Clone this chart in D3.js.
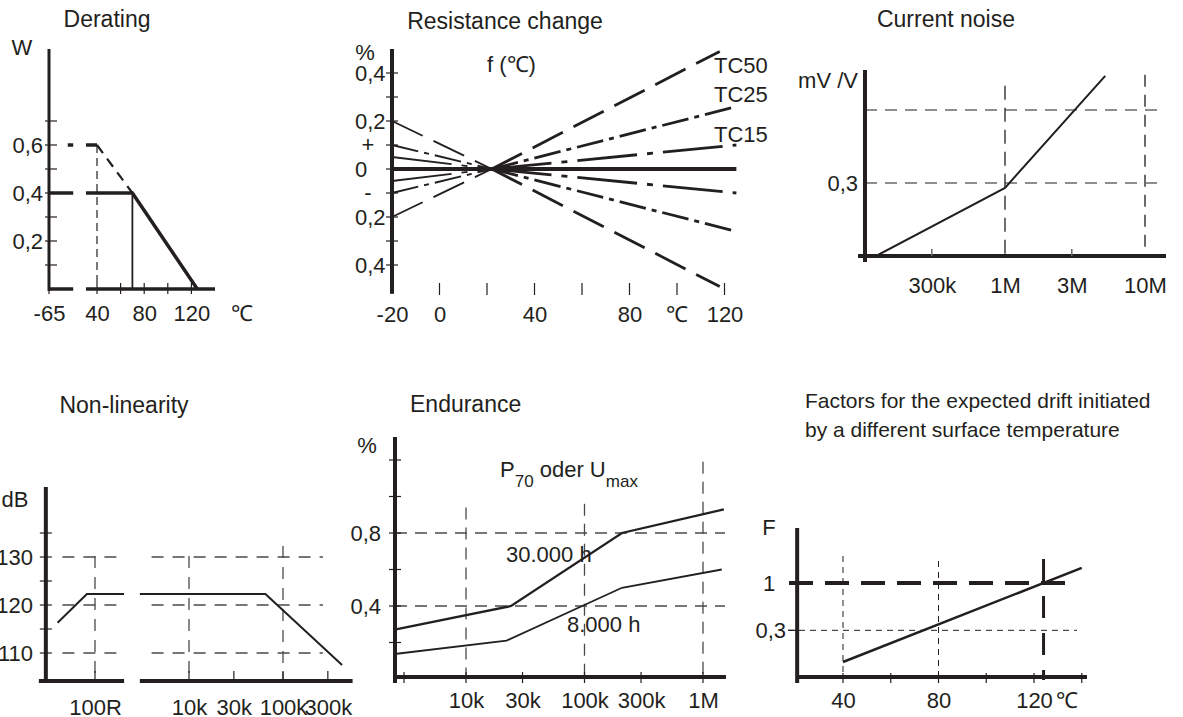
<!DOCTYPE html>
<html>
<head>
<meta charset="utf-8">
<script src="https://cdn.jsdelivr.net/npm/d3@7"></script>
<style>
  body { margin: 0; background: #fff; }
  svg { display: block; font-family: "Liberation Sans", Arial, sans-serif; font-size: 22px; }
  text { fill: #231f20; }
</style>
</head>
<body>
<svg id="chart" width="1183" height="717"></svg>
<script>
const ink = '#231f20';
const grid = '#4a4a4a';
// datasheet style: decimal comma, no minus sign on the lower half
const comma = d => String(Math.abs(d)).replace('.', ',');

// Derating
const deratingTempTicks = [40, 60, 80, 100, 120];
const deratingTempLabels = [-65, 40, 80, 120];
const deratingPowerTicks = [0.1, 0.2, 0.3, 0.4, 0.5, 0.6, 0.7];
const deratingPowerLabels = [0.2, 0.4, 0.6];
const deratingCurve = [[-65, 0.4], [70, 0.4], [125, 0]];
const deratingPeak = [[-24, 0.6], [40, 0.6]];
const deratingExtension = [[40, 0.6], [70, 0.4]];
const deratingBreak = [-12, 16];

// Resistance change
const rcTempTicks = [0, 20, 40, 60, 80, 100, 120];
const rcTempLabels = [-20, 0, 40, 80, 120];
const rcPctTicks = [-0.4, -0.3, -0.2, -0.1, 0, 0.1, 0.2, 0.3, 0.4];
const rcPctLabels = [0.4, 0.2, 0, -0.2, -0.4];
const tcNames = ['TC50', 'TC25', 'TC15'];
const tcAtMinus20 = [0.2, 0.1, 0.05];
const tcEndTemp = [118, 125, 125];
const tcAtEnd = [0.49, 0.26, 0.1];
const tcRefTemp = 22;

// Current noise
const noiseFreqTicks = [3e5, 1e6, 3e6, 1e7];
const noiseFreqLabels = ['300k', '1M', '3M', '10M'];
const noiseGridLevels = [0.3, 0.6];
const noiseCurve = [[1.2e5, 0], [1e6, 0.28], [5.2e6, 0.74]];

// Non-linearity
const nlLowTicks = [100];
const nlLowLabels = ['100R'];
const nlHighTicks = [1e4, 3e4, 1e5, 3e5];
const nlHighLabels = ['10k', '30k', '100k', '300k'];
const nlDbTicks = [110, 115, 120, 125, 130, 135];
const nlDbLabels = [110, 120, 130];
const nlLowCurve = [[40, 116.3], [82, 122.3], [204, 122.3]];
const nlHighCurve = [[3000, 122.3], [65000, 122.3], [425000, 107.5]];

// Endurance
const endFreqTicks = [3e3, 1e4, 3e4, 1e5, 3e5, 1e6];
const endFreqLabels = ['10k', '30k', '100k', '300k', '1M'];
const endPctTicks = [0.2, 0.4, 0.6, 0.8, 1.0, 1.2];
const endPctLabels = [0.4, 0.8];
const end30000h = [[2.5e3, 0.27], [24e3, 0.4], [207e3, 0.8], [1.5e6, 0.93]];
const end8000h = [[2.5e3, 0.137], [22e3, 0.21], [207e3, 0.5], [1.44e6, 0.6]];

// Drift factors
const facTempTicks = [40, 60, 80, 100, 120, 140];
const facTempLabels = [40, 80, 120];
const facCurve = [[40, 0.134], [140, 1.47]];
const facRefTemp = 124;

const svg = d3.select('#chart');

function seg(g, x1, y1, x2, y2, w, dash, color) {
  return g.append('line')
    .attr('x1', x1).attr('y1', y1).attr('x2', x2).attr('y2', y2)
    .attr('stroke', color || ink).attr('stroke-width', w)
    .attr('stroke-dasharray', dash || null);
}
function curve(g, pts, x, y, w, dash) {
  return g.append('path').datum(pts)
    .attr('fill', 'none').attr('stroke', ink).attr('stroke-width', w)
    .attr('stroke-dasharray', dash || null)
    .attr('d', d3.line().x(d => x(d[0])).y(d => y(d[1])));
}
function clean(a) {
  a.select('.domain').remove();
  a.selectAll('.tick line').remove();
  a.attr('font-size', 22).attr('font-family', null).attr('color', ink);
}
function bottomLabels(g, scale, values, fmt, baseline) {
  g.append('g').attr('transform', `translate(0,${baseline - 15.6})`)
    .call(d3.axisBottom(scale).tickValues(values).tickFormat(fmt).tickSize(0).tickPadding(0))
    .call(clean);
}
function leftLabels(g, scale, values, fmt, xEnd) {
  g.append('g').attr('transform', `translate(${xEnd},0)`)
    .call(d3.axisLeft(scale).tickValues(values).tickFormat(fmt).tickSize(0).tickPadding(0))
    .call(clean);
}
function label(g, x, y, txt, anchor, size) {
  return g.append('text').attr('x', x).attr('y', y)
    .attr('text-anchor', anchor || 'start')
    .attr('font-size', size || 22).text(txt);
}

// ---------- Derating ----------
{
  const g = svg.append('g');
  const x = d3.scaleLinear().domain([-65, 40, 140]).range([49, 97, 215]);
  const y = d3.scaleLinear().domain([0, 1]).range([289, 49]);
  const x0 = x(-65), y0 = y(0);

  seg(g, x(40), y(0.6), x(40), y0, 1.2, '8,5');
  curve(g, deratingPeak, x, y, 3.5);
  curve(g, deratingExtension, x, y, 2.2, '10,7');
  curve(g, deratingCurve, x, y, 3.5);
  seg(g, x(70), y(0.4), x(70), y0, 1.8);
  seg(g, x0, y0, x(140), y0, 3.5);
  g.append('rect')
    .attr('x', x(deratingBreak[0])).attr('y', y(0.7))
    .attr('width', x(deratingBreak[1]) - x(deratingBreak[0]))
    .attr('height', y0 - y(0.7) + 5).attr('fill', '#fff');
  seg(g, x0, y(1), x0, y0 + 2, 3);
  deratingPowerTicks.forEach(v => seg(g, x0 - 4, y(v), x0 + 8, y(v), 1.2));
  deratingTempTicks.forEach(t => seg(g, x(t), y0 - 6, x(t), y0 + 5, 1.2));
  seg(g, x0, y0, x0, y0 + 5, 1.2);

  leftLabels(g, y, deratingPowerLabels, comma, 43);
  bottomLabels(g, x, deratingTempLabels, d => d, 321);
  label(g, 242, 321, '℃', 'middle');
  label(g, 22, 55, 'W', 'middle');
  label(g, 107, 27, 'Derating', 'middle', 23);
}

// ---------- Resistance change ----------
{
  const g = svg.append('g');
  const x = d3.scaleLinear().domain([-20, 120]).range([392, 724.5]);
  const y = d3.scaleLinear().domain([-0.5, 0.5]).range([289, 49]);
  const x0 = x(-20);
  const dashes = ['34,12', '27,6,5,6', '60,10,6,10'];

  tcNames.forEach((name, i) => {
    [1, -1].forEach(s => {
      // left half is drawn lighter than the right half, as in the sheet
      curve(g, [[-20, -s * tcAtMinus20[i]], [tcRefTemp, 0]], x, y, 1.9, dashes[i]);
      curve(g, [[tcRefTemp, 0], [tcEndTemp[i], s * tcAtEnd[i]]], x, y, 2.8, dashes[i]);
    });
  });
  seg(g, x0, y(0), x(125), y(0), 4);
  seg(g, x0, y(0.5), x0, y(-0.52), 4);
  rcPctTicks.forEach(v => seg(g, x0 - 6, y(v), x0 + 6, y(v), 1.2));
  rcTempTicks.forEach(t => seg(g, x(t), 283, x(t), 295, 1.2));

  g.selectAll('.pct').data(rcPctLabels).join('text')
    .attr('x', 355).attr('y', d => y(d)).attr('dy', '0.35em')
    .text(comma);
  bottomLabels(g, x, rcTempLabels, d => d, 322);
  label(g, x(100), 322, '℃', 'middle');
  label(g, 368, y(0.1) + 7, '+', 'middle');
  label(g, 368, y(-0.1) + 7, '-', 'middle');
  label(g, 365, 60, '%', 'middle');
  label(g, 487, 72, 'f (℃)');
  [73, 102, 142].forEach((b, i) => label(g, 714, b, tcNames[i]));
  label(g, 505, 29, 'Resistance change', 'middle', 23);
}

// ---------- Current noise ----------
{
  const g = svg.append('g');
  const x = d3.scaleLog().domain([1e5, 1e7]).range([865, 1145]);
  const y = d3.scaleLinear().domain([0, 0.6]).range([256, 110]);
  const x0 = x(1e5), y0 = y(0);

  noiseGridLevels.forEach(v => seg(g, x0, y(v), 1160, y(v), 1.5, '12,8', '#6a6a6a'));
  seg(g, x(1e6), y(0.7), x(1e6), y0, 1.3, '14,8');
  seg(g, x(1e7), y(0.745), x(1e7), y0, 2, '12,8', '#6a6a6a');
  curve(g, noiseCurve, x, y, 2);
  seg(g, x0 - 7, y0, 1166, y0, 4);
  seg(g, x0, 70, x0, y0 + 6, 4);
  [3e5, 3e6].forEach(f => seg(g, x(f), y0 - 7, x(f), y0, 1.5, null, '#6a6a6a'));

  bottomLabels(g, x, noiseFreqTicks, (d, i) => noiseFreqLabels[i], 293);
  leftLabels(g, y, [0.3], comma, 858);
  label(g, 858, 88, 'mV /V', 'end');
  label(g, 946, 27, 'Current noise', 'middle', 23);
}

// ---------- Non-linearity ----------
{
  const g = svg.append('g');
  const xL = d3.scaleLog().domain([100, 1000]).range([95, 189]);
  const xR = d3.scaleLog().domain([1e4, 1e5]).range([189, 283]);
  const y = d3.scaleLinear().domain([110, 130]).range([653, 557]);
  const x0 = xL(30), y0 = 681;

  [110, 120, 130].forEach(v => {
    seg(g, xL(45), y(v), xL(185), y(v), 1.3, '12,9', grid);
    seg(g, xR(4000), y(v), xR(2.66e5), y(v), 1.3, '12,9', grid);
  });
  seg(g, xL(100), y(130.2), xL(100), y0, 1.3, '12,9', grid);
  seg(g, xR(1e4), y(130.2), xR(1e4), y0, 1.3, '12,9', grid);
  seg(g, xR(1e5), y(132.3), xR(1e5), y0, 1.3, '12,9', grid);
  curve(g, nlLowCurve, xL, y, 2);
  curve(g, nlHighCurve, xR, y, 2);

  seg(g, x0 - 7, y0, xL(204), y0, 4);
  seg(g, xR(3000), y0, xR(5.5e5), y0, 4);
  seg(g, x0, 487, x0, y0 + 2, 4);
  nlDbTicks.forEach(v => seg(g, x0 - 6, y(v), x0 + 6, y(v), 1.2));
  nlLowTicks.forEach(f => seg(g, xL(f), y0 - 10, xL(f), y0, 1.2));
  nlHighTicks.forEach(f => seg(g, xR(f), y0 - 10, xR(f), y0, 1.2));

  leftLabels(g, y, nlDbLabels, d => d, 33);
  bottomLabels(g, xL, nlLowTicks, (d, i) => nlLowLabels[i], 715);
  bottomLabels(g, xR, nlHighTicks, (d, i) => nlHighLabels[i], 715);
  label(g, 15, 507, 'dB', 'middle');
  label(g, 124, 413, 'Non-linearity', 'middle', 23);
}

// ---------- Endurance ----------
{
  const g = svg.append('g');
  const x = d3.scaleLog().domain([1e4, 1e6]).range([466, 703]);
  const y = d3.scaleLinear().domain([0, 0.8]).range([679, 533]);
  const x0 = 395, y0 = 677;

  endPctLabels.forEach(v => seg(g, x0, y(v), 725, y(v), 1.3, '12,8', grid));
  seg(g, x(1e4), y(0.94), x(1e4), y0, 1.3, '12,8', grid);
  seg(g, x(1e5), y(0.96), x(1e5), y0, 1.3, '12,8', grid);
  seg(g, x(1e6), y(1.19), x(1e6), y0, 1.3, '12,8', grid);
  curve(g, end30000h, x, y, 2.3);
  curve(g, end8000h, x, y, 1.8);

  seg(g, x0, y0, 726, y0, 4);
  seg(g, x0, 437, x0, y0 + 6, 4);
  endPctTicks.forEach(v => seg(g, x0 - 6, y(v), x0 + 6, y(v), 1.2));
  endFreqTicks.forEach(f => seg(g, x(f), y0 - 5, x(f), y0 + 6, 1.2));

  leftLabels(g, y, endPctLabels, comma, 381);
  bottomLabels(g, x, endFreqTicks.slice(1), (d, i) => endFreqLabels[i], 708);
  label(g, 367, 453, '%', 'middle');

  const t = g.append('text').attr('x', 500).attr('y', 477);
  t.append('tspan').text('P');
  t.append('tspan').attr('dy', 10).attr('font-size', 17).text('70');
  t.append('tspan').attr('dy', -10).text(' oder U');
  t.append('tspan').attr('dy', 10).attr('font-size', 17).text('max');
  label(g, 506, 562, '30.000 h');
  label(g, 567, 632, '8.000 h');
  label(g, 410, 412, 'Endurance', 'start', 23);
}

// ---------- Drift factors ----------
{
  const g = svg.append('g');
  const x = d3.scaleLinear().domain([40, 120]).range([843, 1034]);
  const y = d3.scaleLog().domain([0.1, 1]).range([673.5, 583]);
  const x0 = x(20.8), y0 = 677;

  seg(g, 788, y(0.3), x(138), y(0.3), 1, '6,5');
  seg(g, x(40), 556, x(40), y0, 1, '6,5');
  seg(g, x(80), 561, x(80), y0, 1, '6,5');
  seg(g, 789, y(1), x(138), y(1), 4, '24,12');
  seg(g, x(facRefTemp), 559, x(facRefTemp), y0 + 3, 3, '22,15');
  curve(g, facCurve, x, y, 2.5);

  seg(g, x0, y0, 1087, y0, 4);
  seg(g, x0, 528, x0, y0 + 6, 4);
  facTempTicks.forEach(t => seg(g, x(t), y0 - 4, x(t), y0 + 6, 1.2));
  seg(g, 788, y(0.3), x0, y(0.3), 1.2);

  bottomLabels(g, x, facTempLabels, d => d, 708);
  label(g, 1067, 708, '℃', 'middle');
  leftLabels(g, y, [0.3], comma, 786);
  label(g, 769, y(1) + 8, '1', 'middle');
  label(g, 769, 535, 'F', 'middle');
  label(g, 805, 408, 'Factors for the expected drift initiated', 'start', 21);
  label(g, 805, 437, 'by a different surface temperature', 'start', 21);
}
</script>
</body>
</html>
